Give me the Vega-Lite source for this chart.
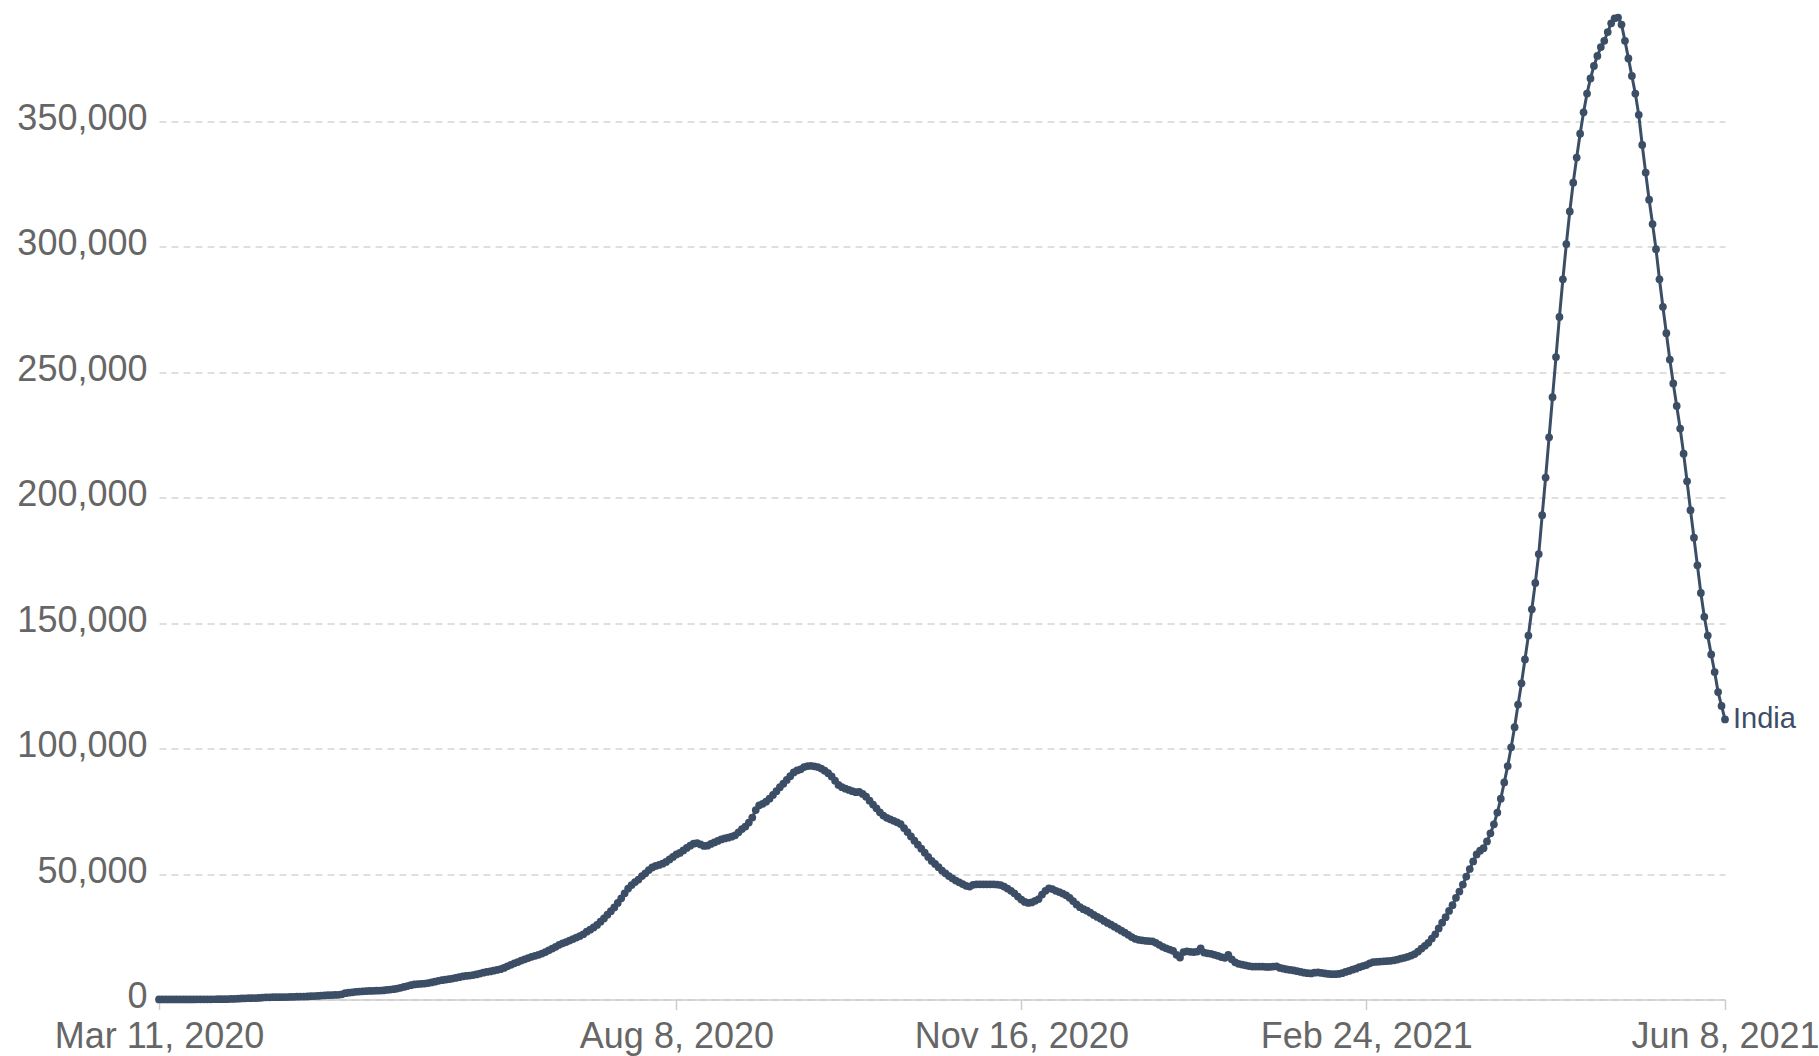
{
"$schema": "https://vega.github.io/schema/vega-lite/v6.json",
"width": 1566, "height": 982,
"autosize": {"type": "none"},
"padding": {"left": 159, "top": 17.5, "right": 94, "bottom": 56.5},
"background": "white",
"config": {"view": {"stroke": null}, "font": "Liberation Sans"},
"datasets": {"series": [
{"date":"2020-03-11","cases":9},{"date":"2020-03-12","cases":10},{"date":"2020-03-13","cases":12},{"date":"2020-03-14","cases":13},{"date":"2020-03-15","cases":15},{"date":"2020-03-16","cases":17},{"date":"2020-03-17","cases":18},{"date":"2020-03-18","cases":20},{"date":"2020-03-19","cases":26},{"date":"2020-03-20","cases":33},{"date":"2020-03-21","cases":45},{"date":"2020-03-22","cases":55},{"date":"2020-03-23","cases":70},{"date":"2020-03-24","cases":75},{"date":"2020-03-25","cases":82},{"date":"2020-03-26","cases":92},{"date":"2020-03-27","cases":100},{"date":"2020-03-28","cases":118},{"date":"2020-03-29","cases":130},{"date":"2020-03-30","cases":145},{"date":"2020-03-31","cases":175},
{"date":"2020-04-01","cases":230},{"date":"2020-04-02","cases":290},{"date":"2020-04-03","cases":340},{"date":"2020-04-04","cases":400},{"date":"2020-04-05","cases":460},{"date":"2020-04-06","cases":500},{"date":"2020-04-07","cases":530},{"date":"2020-04-08","cases":560},{"date":"2020-04-09","cases":620},{"date":"2020-04-10","cases":790},{"date":"2020-04-11","cases":850},{"date":"2020-04-12","cases":880},{"date":"2020-04-13","cases":900},{"date":"2020-04-14","cases":920},{"date":"2020-04-15","cases":940},{"date":"2020-04-16","cases":950},{"date":"2020-04-17","cases":960},{"date":"2020-04-18","cases":1000},{"date":"2020-04-19","cases":1060},{"date":"2020-04-20","cases":1110},{"date":"2020-04-21","cases":1150},{"date":"2020-04-22","cases":1190},{"date":"2020-04-23","cases":1240},{"date":"2020-04-24","cases":1300},{"date":"2020-04-25","cases":1350},{"date":"2020-04-26","cases":1400},{"date":"2020-04-27","cases":1560},{"date":"2020-04-28","cases":1620},{"date":"2020-04-29","cases":1700},{"date":"2020-04-30","cases":1750},
{"date":"2020-05-01","cases":1800},{"date":"2020-05-02","cases":1870},{"date":"2020-05-03","cases":2050},{"date":"2020-05-04","cases":2500},{"date":"2020-05-05","cases":2700},{"date":"2020-05-06","cases":2850},{"date":"2020-05-07","cases":3050},{"date":"2020-05-08","cases":3150},{"date":"2020-05-09","cases":3250},{"date":"2020-05-10","cases":3350},{"date":"2020-05-11","cases":3400},{"date":"2020-05-12","cases":3450},{"date":"2020-05-13","cases":3500},{"date":"2020-05-14","cases":3550},{"date":"2020-05-15","cases":3620},{"date":"2020-05-16","cases":3800},{"date":"2020-05-17","cases":3950},{"date":"2020-05-18","cases":4100},{"date":"2020-05-19","cases":4350},{"date":"2020-05-20","cases":4650},{"date":"2020-05-21","cases":5000},{"date":"2020-05-22","cases":5350},{"date":"2020-05-23","cases":5700},{"date":"2020-05-24","cases":6000},{"date":"2020-05-25","cases":6150},{"date":"2020-05-26","cases":6250},{"date":"2020-05-27","cases":6350},{"date":"2020-05-28","cases":6550},{"date":"2020-05-29","cases":6800},{"date":"2020-05-30","cases":7100},{"date":"2020-05-31","cases":7450},
{"date":"2020-06-01","cases":7700},{"date":"2020-06-02","cases":7900},{"date":"2020-06-03","cases":8100},{"date":"2020-06-04","cases":8350},{"date":"2020-06-05","cases":8600},{"date":"2020-06-06","cases":8900},{"date":"2020-06-07","cases":9200},{"date":"2020-06-08","cases":9400},{"date":"2020-06-09","cases":9550},{"date":"2020-06-10","cases":9750},{"date":"2020-06-11","cases":10000},{"date":"2020-06-12","cases":10350},{"date":"2020-06-13","cases":10700},{"date":"2020-06-14","cases":11000},{"date":"2020-06-15","cases":11200},{"date":"2020-06-16","cases":11500},{"date":"2020-06-17","cases":11800},{"date":"2020-06-18","cases":12100},{"date":"2020-06-19","cases":12600},{"date":"2020-06-20","cases":13200},{"date":"2020-06-21","cases":13800},{"date":"2020-06-22","cases":14400},{"date":"2020-06-23","cases":14900},{"date":"2020-06-24","cases":15500},{"date":"2020-06-25","cases":16000},{"date":"2020-06-26","cases":16500},{"date":"2020-06-27","cases":17000},{"date":"2020-06-28","cases":17400},{"date":"2020-06-29","cases":17800},{"date":"2020-06-30","cases":18300},
{"date":"2020-07-01","cases":18900},{"date":"2020-07-02","cases":19600},{"date":"2020-07-03","cases":20300},{"date":"2020-07-04","cases":21000},{"date":"2020-07-05","cases":21800},{"date":"2020-07-06","cases":22400},{"date":"2020-07-07","cases":22900},{"date":"2020-07-08","cases":23500},{"date":"2020-07-09","cases":24100},{"date":"2020-07-10","cases":24700},{"date":"2020-07-11","cases":25300},{"date":"2020-07-12","cases":26000},{"date":"2020-07-13","cases":27000},{"date":"2020-07-14","cases":27800},{"date":"2020-07-15","cases":28700},{"date":"2020-07-16","cases":29700},{"date":"2020-07-17","cases":31000},{"date":"2020-07-18","cases":32300},{"date":"2020-07-19","cases":33800},{"date":"2020-07-20","cases":35200},{"date":"2020-07-21","cases":36700},{"date":"2020-07-22","cases":38500},{"date":"2020-07-23","cases":40300},{"date":"2020-07-24","cases":42300},{"date":"2020-07-25","cases":44200},{"date":"2020-07-26","cases":45600},{"date":"2020-07-27","cases":46800},{"date":"2020-07-28","cases":47800},{"date":"2020-07-29","cases":49200},{"date":"2020-07-30","cases":50300},{"date":"2020-07-31","cases":51600},
{"date":"2020-08-01","cases":52600},{"date":"2020-08-02","cases":53200},{"date":"2020-08-03","cases":53600},{"date":"2020-08-04","cases":54100},{"date":"2020-08-05","cases":54800},{"date":"2020-08-06","cases":55800},{"date":"2020-08-07","cases":56800},{"date":"2020-08-08","cases":57800},{"date":"2020-08-09","cases":58400},{"date":"2020-08-10","cases":59400},{"date":"2020-08-11","cases":60400},{"date":"2020-08-12","cases":61300},{"date":"2020-08-13","cases":62100},{"date":"2020-08-14","cases":62300},{"date":"2020-08-15","cases":61800},{"date":"2020-08-16","cases":61200},{"date":"2020-08-17","cases":61300},{"date":"2020-08-18","cases":62000},{"date":"2020-08-19","cases":62600},{"date":"2020-08-20","cases":63200},{"date":"2020-08-21","cases":63800},{"date":"2020-08-22","cases":64200},{"date":"2020-08-23","cases":64500},{"date":"2020-08-24","cases":64900},{"date":"2020-08-25","cases":65400},{"date":"2020-08-26","cases":66600},{"date":"2020-08-27","cases":67900},{"date":"2020-08-28","cases":68900},{"date":"2020-08-29","cases":70500},{"date":"2020-08-30","cases":72500},{"date":"2020-08-31","cases":75500},
{"date":"2020-09-01","cases":77400},{"date":"2020-09-02","cases":78000},{"date":"2020-09-03","cases":78800},{"date":"2020-09-04","cases":80000},{"date":"2020-09-05","cases":81500},{"date":"2020-09-06","cases":83000},{"date":"2020-09-07","cases":84600},{"date":"2020-09-08","cases":86000},{"date":"2020-09-09","cases":87500},{"date":"2020-09-10","cases":89000},{"date":"2020-09-11","cases":90500},{"date":"2020-09-12","cases":91300},{"date":"2020-09-13","cases":91700},{"date":"2020-09-14","cases":92600},{"date":"2020-09-15","cases":93000},{"date":"2020-09-16","cases":93100},{"date":"2020-09-17","cases":92900},{"date":"2020-09-18","cases":92600},{"date":"2020-09-19","cases":92000},{"date":"2020-09-20","cases":91200},{"date":"2020-09-21","cases":90200},{"date":"2020-09-22","cases":88900},{"date":"2020-09-23","cases":87200},{"date":"2020-09-24","cases":85500},{"date":"2020-09-25","cases":84600},{"date":"2020-09-26","cases":84000},{"date":"2020-09-27","cases":83500},{"date":"2020-09-28","cases":83000},{"date":"2020-09-29","cases":82600},{"date":"2020-09-30","cases":82700},
{"date":"2020-10-01","cases":81900},{"date":"2020-10-02","cases":80800},{"date":"2020-10-03","cases":79200},{"date":"2020-10-04","cases":77700},{"date":"2020-10-05","cases":76200},{"date":"2020-10-06","cases":74600},{"date":"2020-10-07","cases":73300},{"date":"2020-10-08","cases":72400},{"date":"2020-10-09","cases":71800},{"date":"2020-10-10","cases":71200},{"date":"2020-10-11","cases":70600},{"date":"2020-10-12","cases":69900},{"date":"2020-10-13","cases":68300},{"date":"2020-10-14","cases":66700},{"date":"2020-10-15","cases":65000},{"date":"2020-10-16","cases":63300},{"date":"2020-10-17","cases":61700},{"date":"2020-10-18","cases":60100},{"date":"2020-10-19","cases":58500},{"date":"2020-10-20","cases":56800},{"date":"2020-10-21","cases":55200},{"date":"2020-10-22","cases":54000},{"date":"2020-10-23","cases":52700},{"date":"2020-10-24","cases":51400},{"date":"2020-10-25","cases":50300},{"date":"2020-10-26","cases":49200},{"date":"2020-10-27","cases":48300},{"date":"2020-10-28","cases":47400},{"date":"2020-10-29","cases":46700},{"date":"2020-10-30","cases":46000},{"date":"2020-10-31","cases":45300},
{"date":"2020-11-01","cases":45000},{"date":"2020-11-02","cases":45700},{"date":"2020-11-03","cases":45900},{"date":"2020-11-04","cases":45900},{"date":"2020-11-05","cases":45900},{"date":"2020-11-06","cases":45900},{"date":"2020-11-07","cases":45900},{"date":"2020-11-08","cases":45900},{"date":"2020-11-09","cases":45800},{"date":"2020-11-10","cases":45600},{"date":"2020-11-11","cases":45000},{"date":"2020-11-12","cases":44200},{"date":"2020-11-13","cases":43300},{"date":"2020-11-14","cases":42300},{"date":"2020-11-15","cases":41000},{"date":"2020-11-16","cases":39800},{"date":"2020-11-17","cases":38900},{"date":"2020-11-18","cases":38500},{"date":"2020-11-19","cases":38700},{"date":"2020-11-20","cases":39300},{"date":"2020-11-21","cases":40000},{"date":"2020-11-22","cases":41800},{"date":"2020-11-23","cases":43300},{"date":"2020-11-24","cases":44300},{"date":"2020-11-25","cases":44000},{"date":"2020-11-26","cases":43300},{"date":"2020-11-27","cases":42800},{"date":"2020-11-28","cases":42200},{"date":"2020-11-29","cases":41500},{"date":"2020-11-30","cases":40500},
{"date":"2020-12-01","cases":39200},{"date":"2020-12-02","cases":37900},{"date":"2020-12-03","cases":36800},{"date":"2020-12-04","cases":36000},{"date":"2020-12-05","cases":35400},{"date":"2020-12-06","cases":34600},{"date":"2020-12-07","cases":33700},{"date":"2020-12-08","cases":32900},{"date":"2020-12-09","cases":32200},{"date":"2020-12-10","cases":31300},{"date":"2020-12-11","cases":30500},{"date":"2020-12-12","cases":29800},{"date":"2020-12-13","cases":29000},{"date":"2020-12-14","cases":28200},{"date":"2020-12-15","cases":27400},{"date":"2020-12-16","cases":26600},{"date":"2020-12-17","cases":25800},{"date":"2020-12-18","cases":24900},{"date":"2020-12-19","cases":24200},{"date":"2020-12-20","cases":23800},{"date":"2020-12-21","cases":23600},{"date":"2020-12-22","cases":23400},{"date":"2020-12-23","cases":23300},{"date":"2020-12-24","cases":23200},{"date":"2020-12-25","cases":22600},{"date":"2020-12-26","cases":21800},{"date":"2020-12-27","cases":21000},{"date":"2020-12-28","cases":20400},{"date":"2020-12-29","cases":19900},{"date":"2020-12-30","cases":19400},{"date":"2020-12-31","cases":17800},
{"date":"2021-01-01","cases":16700},{"date":"2021-01-02","cases":18900},{"date":"2021-01-03","cases":19200},{"date":"2021-01-04","cases":19000},{"date":"2021-01-05","cases":18900},{"date":"2021-01-06","cases":19100},{"date":"2021-01-07","cases":20400},{"date":"2021-01-08","cases":18700},{"date":"2021-01-09","cases":18400},{"date":"2021-01-10","cases":18200},{"date":"2021-01-11","cases":17800},{"date":"2021-01-12","cases":17400},{"date":"2021-01-13","cases":16900},{"date":"2021-01-14","cases":16600},{"date":"2021-01-15","cases":17800},{"date":"2021-01-16","cases":16000},{"date":"2021-01-17","cases":14800},{"date":"2021-01-18","cases":14200},{"date":"2021-01-19","cases":13900},{"date":"2021-01-20","cases":13600},{"date":"2021-01-21","cases":13300},{"date":"2021-01-22","cases":13100},{"date":"2021-01-23","cases":13100},{"date":"2021-01-24","cases":13100},{"date":"2021-01-25","cases":13100},{"date":"2021-01-26","cases":13000},{"date":"2021-01-27","cases":13000},{"date":"2021-01-28","cases":13100},{"date":"2021-01-29","cases":13200},{"date":"2021-01-30","cases":12600},{"date":"2021-01-31","cases":12300},
{"date":"2021-02-01","cases":12000},{"date":"2021-02-02","cases":11800},{"date":"2021-02-03","cases":11600},{"date":"2021-02-04","cases":11300},{"date":"2021-02-05","cases":11000},{"date":"2021-02-06","cases":10700},{"date":"2021-02-07","cases":10500},{"date":"2021-02-08","cases":10400},{"date":"2021-02-09","cases":10700},{"date":"2021-02-10","cases":10800},{"date":"2021-02-11","cases":10600},{"date":"2021-02-12","cases":10400},{"date":"2021-02-13","cases":10200},{"date":"2021-02-14","cases":10100},{"date":"2021-02-15","cases":10100},{"date":"2021-02-16","cases":10200},{"date":"2021-02-17","cases":10500},{"date":"2021-02-18","cases":11000},{"date":"2021-02-19","cases":11400},{"date":"2021-02-20","cases":11900},{"date":"2021-02-21","cases":12300},{"date":"2021-02-22","cases":12900},{"date":"2021-02-23","cases":13300},{"date":"2021-02-24","cases":13700},{"date":"2021-02-25","cases":14400},{"date":"2021-02-26","cases":14900},{"date":"2021-02-27","cases":15000},{"date":"2021-02-28","cases":15100},
{"date":"2021-03-01","cases":15200},{"date":"2021-03-02","cases":15300},{"date":"2021-03-03","cases":15400},{"date":"2021-03-04","cases":15600},{"date":"2021-03-05","cases":15900},{"date":"2021-03-06","cases":16300},{"date":"2021-03-07","cases":16600},{"date":"2021-03-08","cases":17000},{"date":"2021-03-09","cases":17500},{"date":"2021-03-10","cases":18100},{"date":"2021-03-11","cases":19100},{"date":"2021-03-12","cases":20300},{"date":"2021-03-13","cases":21400},{"date":"2021-03-14","cases":22600},{"date":"2021-03-15","cases":24300},{"date":"2021-03-16","cases":26000},{"date":"2021-03-17","cases":28300},{"date":"2021-03-18","cases":30600},{"date":"2021-03-19","cases":32800},{"date":"2021-03-20","cases":35300},{"date":"2021-03-21","cases":37600},{"date":"2021-03-22","cases":40500},{"date":"2021-03-23","cases":43000},{"date":"2021-03-24","cases":45800},{"date":"2021-03-25","cases":49000},{"date":"2021-03-26","cases":52000},{"date":"2021-03-27","cases":55000},{"date":"2021-03-28","cases":57800},{"date":"2021-03-29","cases":59300},{"date":"2021-03-30","cases":60300},{"date":"2021-03-31","cases":63000},
{"date":"2021-04-01","cases":66200},{"date":"2021-04-02","cases":69800},{"date":"2021-04-03","cases":74500},{"date":"2021-04-04","cases":80000},{"date":"2021-04-05","cases":86500},{"date":"2021-04-06","cases":93000},{"date":"2021-04-07","cases":100500},{"date":"2021-04-08","cases":108500},{"date":"2021-04-09","cases":117500},{"date":"2021-04-10","cases":126000},{"date":"2021-04-11","cases":135500},{"date":"2021-04-12","cases":145000},{"date":"2021-04-13","cases":155500},{"date":"2021-04-14","cases":166000},{"date":"2021-04-15","cases":177500},{"date":"2021-04-16","cases":193000},{"date":"2021-04-17","cases":208000},{"date":"2021-04-18","cases":224000},{"date":"2021-04-19","cases":240000},{"date":"2021-04-20","cases":256000},{"date":"2021-04-21","cases":272000},{"date":"2021-04-22","cases":287000},{"date":"2021-04-23","cases":301000},{"date":"2021-04-24","cases":314000},{"date":"2021-04-25","cases":325500},{"date":"2021-04-26","cases":335500},{"date":"2021-04-27","cases":345000},{"date":"2021-04-28","cases":353500},{"date":"2021-04-29","cases":361000},{"date":"2021-04-30","cases":367000},
{"date":"2021-05-01","cases":372000},{"date":"2021-05-02","cases":376000},{"date":"2021-05-03","cases":379500},{"date":"2021-05-04","cases":382000},{"date":"2021-05-05","cases":385500},{"date":"2021-05-06","cases":389000},{"date":"2021-05-07","cases":391000},{"date":"2021-05-08","cases":391300},{"date":"2021-05-09","cases":388500},{"date":"2021-05-10","cases":382000},{"date":"2021-05-11","cases":375000},{"date":"2021-05-12","cases":368000},{"date":"2021-05-13","cases":361000},{"date":"2021-05-14","cases":352500},{"date":"2021-05-15","cases":340500},{"date":"2021-05-16","cases":329500},{"date":"2021-05-17","cases":318700},{"date":"2021-05-18","cases":309000},{"date":"2021-05-19","cases":299000},{"date":"2021-05-20","cases":287000},{"date":"2021-05-21","cases":276000},{"date":"2021-05-22","cases":265500},{"date":"2021-05-23","cases":255000},{"date":"2021-05-24","cases":245500},{"date":"2021-05-25","cases":236500},{"date":"2021-05-26","cases":227500},{"date":"2021-05-27","cases":217500},{"date":"2021-05-28","cases":206500},{"date":"2021-05-29","cases":195000},{"date":"2021-05-30","cases":184000},{"date":"2021-05-31","cases":173000},
{"date":"2021-06-01","cases":162000},{"date":"2021-06-02","cases":152500},{"date":"2021-06-03","cases":145000},{"date":"2021-06-04","cases":137500},{"date":"2021-06-05","cases":130500},{"date":"2021-06-06","cases":122500},{"date":"2021-06-07","cases":117000},{"date":"2021-06-08","cases":111600,"label":"India"}
]},
"data": {"name": "series"},
"encoding": {
  "x": {"field": "date", "type": "temporal",
    "scale": {"type": "utc", "nice": false, "padding": 0},
    "axis": {"values": [
        {"year": 2020, "month": 3, "date": 11, "utc": true},
        {"year": 2020, "month": 8, "date": 8, "utc": true},
        {"year": 2020, "month": 11, "date": 16, "utc": true},
        {"year": 2021, "month": 2, "date": 24, "utc": true},
        {"year": 2021, "month": 6, "date": 8, "utc": true}],
      "format": "%b %-d, %Y", "title": null, "grid": false,
      "domainColor": "#cccccc", "domainWidth": 1.5,
      "tickColor": "#cccccc", "tickWidth": 1.5, "tickSize": 10,
      "labelFontSize": 36, "labelColor": "#666666", "labelPadding": 10, "labelLimit": 0,
      "labelFlush": false, "labelOverlap": false, "labelBound": false}},
  "y": {"field": "cases", "type": "quantitative",
    "scale": {"domain": [0, 391300], "nice": false},
    "axis": {"values": [0, 50000, 100000, 150000, 200000, 250000, 300000, 350000],
      "format": ",.0f", "title": null, "domain": false, "ticks": false, "tickSize": 0,
      "labelPadding": 12, "labelFontSize": 36, "labelColor": "#666666", "labelLimit": 0, "labelOffset": -3,
      "grid": true, "gridColor": "#d5d5d5", "gridDash": [7, 5], "gridWidth": 1.5}}
},
"layer": [
  {"mark": {"type": "line", "color": "#3c4e66", "strokeWidth": 3}},
  {"mark": {"type": "point", "filled": true, "size": 60, "color": "#3c4e66", "opacity": 1}},
  {"transform": [{"filter": "isValid(datum.label)"}],
   "mark": {"type": "text", "align": "left", "baseline": "middle", "dx": 8, "fontSize": 29, "color": "#3c4e66"},
   "encoding": {"text": {"field": "label"}}}
]
}
